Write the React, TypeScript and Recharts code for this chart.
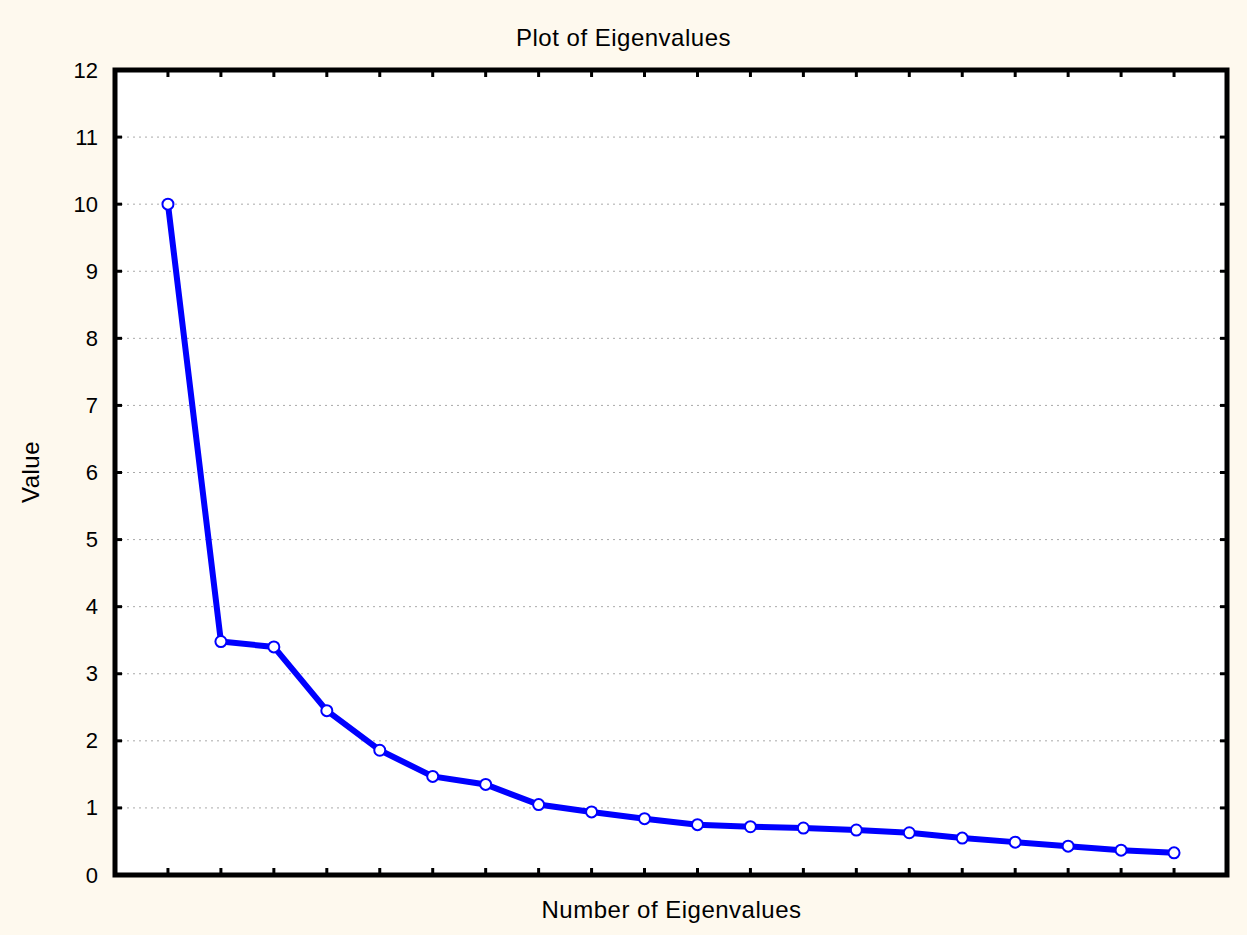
import { LineChart, Line, XAxis, YAxis, CartesianGrid, ReferenceArea } from 'recharts';

// ── Data ────────────────────────────────────────────────────
const EIGEN_NUMBERS = [1, 2, 3, 4, 5, 6, 7, 8, 9, 10, 11, 12, 13, 14, 15, 16, 17, 18, 19, 20];
const EIGEN_VALUES = [
  10.0, 3.48, 3.40, 2.45, 1.86, 1.47, 1.35, 1.05, 0.94, 0.84,
  0.75, 0.72, 0.70, 0.67, 0.63, 0.55, 0.49, 0.43, 0.37, 0.33,
];
const Y_TICKS = [0, 1, 2, 3, 4, 5, 6, 7, 8, 9, 10, 11, 12];

const data = EIGEN_NUMBERS.map((n, i) => ({ n, value: EIGEN_VALUES[i] }));

// ── Styles ──────────────────────────────────────────────────
const W = 1247;
const H = 935;
const BG = '#fef9ee';
const FONT = "'Liberation Sans', Arial, sans-serif";
const BLUE = '#0000ff';
const TICK_LEN = 7;
const LABEL_GAP = 17;

// inward tick marks (+ label on the left axis)
const LeftTick = ({ x, y, payload }: any) => (
  <g>
    <text x={x} y={y} textAnchor="end" dominantBaseline="central" fontFamily={FONT} fontSize={22} fill="#000">
      {payload.value}
    </text>
    <line x1={x + LABEL_GAP} x2={x + LABEL_GAP + TICK_LEN} y1={y} y2={y} stroke="#000" strokeWidth={3} />
  </g>
);
const RightTick = ({ x, y }: any) => <line x1={x} x2={x - TICK_LEN} y1={y} y2={y} stroke="#000" strokeWidth={3} />;
const BottomTick = ({ x, y }: any) => <line x1={x} x2={x} y1={y} y2={y - TICK_LEN} stroke="#000" strokeWidth={3} />;
const TopTick = ({ x, y }: any) => <line x1={x} x2={x} y1={y} y2={y + TICK_LEN} stroke="#000" strokeWidth={3} />;

export default function App() {
  return (
    <div style={{ position: 'absolute', top: 0, left: 0, width: W, height: H, background: BG, fontFamily: FONT }}>
      <div style={{ position: 'absolute', top: 24, left: 0, width: W, textAlign: 'center', fontSize: 24, letterSpacing: 0.5, color: '#000' }}>
        Plot of Eigenvalues
      </div>
      <div style={{ position: 'absolute', top: 896, left: 115, width: 1113, textAlign: 'center', fontSize: 24, letterSpacing: 0.5, color: '#000' }}>
        Number of Eigenvalues
      </div>
      <div style={{
        position: 'absolute', left: 31, top: 472, fontSize: 24, letterSpacing: 0.5, color: '#000',
        transform: 'translate(-50%, -50%) rotate(-90deg)', whiteSpace: 'nowrap',
      }}>
        Value
      </div>
      <LineChart width={W} height={H} data={data} margin={{ top: 69, right: 19, bottom: 0, left: 55 }}>
        <CartesianGrid vertical={false} fill="#fff" stroke="#a9a9a9" strokeDasharray="2 4" />
        <XAxis
          xAxisId={0} dataKey="n" type="number" domain={[0, 21]} ticks={EIGEN_NUMBERS} allowDataOverflow interval={0}
          height={60} tick={<BottomTick />} tickSize={0} tickMargin={0} axisLine={false} tickLine={false}
        />
        <XAxis
          xAxisId="top" orientation="top" dataKey="n" type="number" domain={[0, 21]} ticks={EIGEN_NUMBERS} allowDataOverflow interval={0}
          height={1} tick={<TopTick />} tickSize={0} tickMargin={0} axisLine={false} tickLine={false}
        />
        <YAxis
          yAxisId={0} type="number" domain={[0, 12]} ticks={Y_TICKS} allowDataOverflow interval={0}
          width={60} tick={<LeftTick />} tickSize={0} tickMargin={LABEL_GAP} axisLine={false} tickLine={false}
        />
        <YAxis
          yAxisId="right" orientation="right" type="number" domain={[0, 12]} ticks={Y_TICKS} allowDataOverflow interval={0}
          width={1} tick={<RightTick />} tickSize={0} tickMargin={0} axisLine={false} tickLine={false}
        />
        <ReferenceArea
          xAxisId={0} yAxisId={0} x1={0} x2={21} y1={0} y2={12}
          fill="none" stroke="#000" strokeWidth={5} ifOverflow="visible"
        />
        {/* invisible series so the top/right axes get drawn */}
        <Line
          xAxisId="top" yAxisId="right" dataKey="value" stroke="none" dot={false} activeDot={false}
          legendType="none" isAnimationActive={false}
        />
        <Line
          xAxisId={0} yAxisId={0} type="linear" dataKey="value" stroke={BLUE} strokeWidth={6}
          dot={{ r: 5.5, fill: '#fff', stroke: BLUE, strokeWidth: 2 }} activeDot={false} isAnimationActive={false}
        />
      </LineChart>
    </div>
  );
}
